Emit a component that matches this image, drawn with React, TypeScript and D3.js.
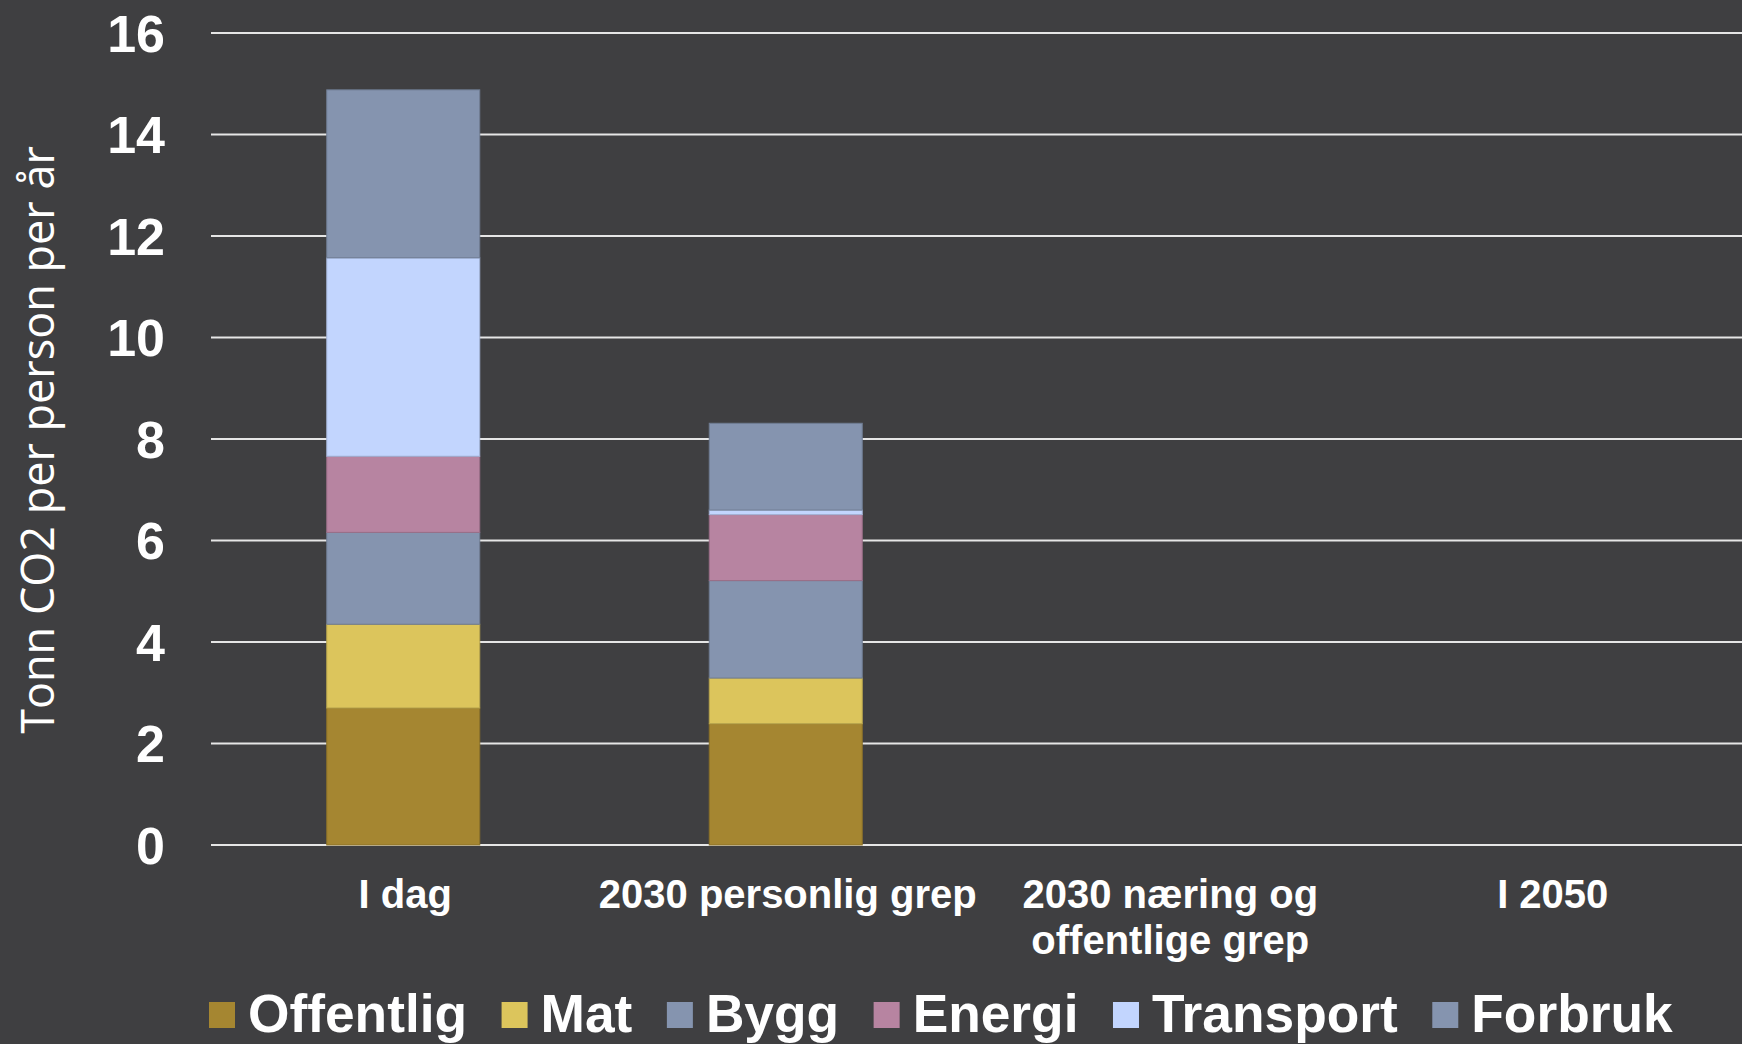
import React, { useEffect, useRef } from "react";
import * as d3 from "d3";

// categories on the x axis (line breaks with \n)
const categories = ["I dag", "2030 personlig grep", "2030 næring og\noffentlige grep", "I 2050"];

// stacked series, bottom to top
const seriesNames = ["Offentlig", "Mat", "Bygg", "Energi", "Transport", "Forbruk"];
const seriesColors = ["#a58631", "#dcc55c", "#8594af", "#b784a1", "#c2d5fe", "#8594af"];

const offentlig = [2.7, 2.39, 0, 0];
const mat = [1.65, 0.9, 0, 0];
const bygg = [1.81, 1.92, 0, 0];
const energi = [1.5, 1.3, 0, 0];
const transport = [3.91, 0.09, 0, 0];
const forbruk = [3.31, 1.71, 0, 0];

const yTicks = [0, 2, 4, 6, 8, 10, 12, 14, 16];
const yTitle = "Tonn CO2 per person per år";

export default function App() {
  const ref = useRef<SVGSVGElement>(null);
  const width = 1742;
  const height = 1044;
  const marginLeft = 212;
  const marginRight = 0;
  const marginTop = 33;
  const baseY = 845;
  const bg = "#3f3f41";

  useEffect(() => {
    document.body.style.margin = "0";
    const svg = d3.select(ref.current);
    svg.selectAll("*").remove();

    svg.append("rect").attr("width", width).attr("height", height).attr("fill", bg);

    const values = [offentlig, mat, bygg, energi, transport, forbruk];
    const rows = categories.map((c, i) => {
      const r: any = { cat: c };
      seriesNames.forEach((s, j) => (r[s] = values[j][i]));
      return r;
    });
    const stacked = d3.stack().keys(seriesNames)(rows);

    const x = d3
      .scaleBand()
      .domain(categories)
      .range([marginLeft, width - marginRight])
      .paddingInner(0.6)
      .paddingOuter(0.3);

    const y = d3.scaleLinear().domain([0, 16]).range([baseY, marginTop]);

    // gridlines + y labels
    const yAxis = svg.append("g");
    yAxis
      .selectAll("line")
      .data(yTicks)
      .join("line")
      .attr("x1", marginLeft - 1)
      .attr("x2", width - marginRight)
      .attr("y1", (d) => y(d))
      .attr("y2", (d) => y(d))
      .attr("stroke", "#e6e6e6")
      .attr("stroke-width", 2);
    yAxis
      .selectAll("text")
      .data(yTicks)
      .join("text")
      .attr("x", 165)
      .attr("y", (d) => y(d))
      .attr("dy", "0.36em")
      .attr("text-anchor", "end")
      .attr("fill", "#fff")
      .attr("font-family", "'Liberation Sans', Arial, sans-serif")
      .attr("font-weight", "bold")
      .attr("font-size", 52)
      .text((d) => d);

    // bars
    svg
      .append("g")
      .selectAll("g")
      .data(stacked)
      .join("g")
      .attr("fill", (_d, i) => seriesColors[i])
      .attr("stroke", (_d, i) => d3.color(seriesColors[i])!.darker(0.5).formatHex())
      .attr("stroke-width", 1)
      .selectAll("rect")
      .data((d) => d.filter((p) => p[1] - p[0] > 0))
      .join("rect")
      .attr("x", (d: any) => x(d.data.cat)!)
      .attr("width", x.bandwidth())
      .attr("y", (d) => y(d[1]))
      .attr("height", (d) => y(d[0]) - y(d[1]));

    // x labels
    const xl = svg.append("g");
    categories.forEach((c) => {
      const cx = x(c)! + x.bandwidth() / 2 + 2;
      const t = xl
        .append("text")
        .attr("x", cx)
        .attr("y", 908)
        .attr("text-anchor", "middle")
        .attr("fill", "#fff")
        .attr("font-family", "'Liberation Sans', Arial, sans-serif")
        .attr("font-weight", "bold")
        .attr("font-size", 40);
      c.split("\n").forEach((line, k) => {
        t.append("tspan")
          .attr("x", cx)
          .attr("dy", k === 0 ? 0 : 46)
          .text(line);
      });
    });

    // y title
    svg
      .append("text")
      .attr("transform", `translate(54,440) rotate(-90)`)
      .attr("text-anchor", "middle")
      .attr("fill", "#fff")
      .attr("font-family", "'Open Sans', sans-serif")
      .attr("font-size", 45)
      .text(yTitle);

    // legend
    const lg = svg.append("g");
    let lx = 209;
    seriesNames.forEach((s, i) => {
      lg.append("rect")
        .attr("x", lx)
        .attr("y", 1002)
        .attr("width", 26)
        .attr("height", 26)
        .attr("fill", seriesColors[i]);
      const t = lg
        .append("text")
        .attr("x", lx + 39)
        .attr("y", 1032)
        .attr("fill", "#fff")
        .attr("font-family", "'Liberation Sans', Arial, sans-serif")
        .attr("font-weight", "bold")
        .attr("font-size", 53.3)
        .text(s);
      const w = (t.node() as SVGTextElement).getComputedTextLength();
      lx += 39 + w + 34.5;
    });
  }, []);

  return <svg ref={ref} width={width} height={height} style={{ display: "block" }}></svg>;
}
